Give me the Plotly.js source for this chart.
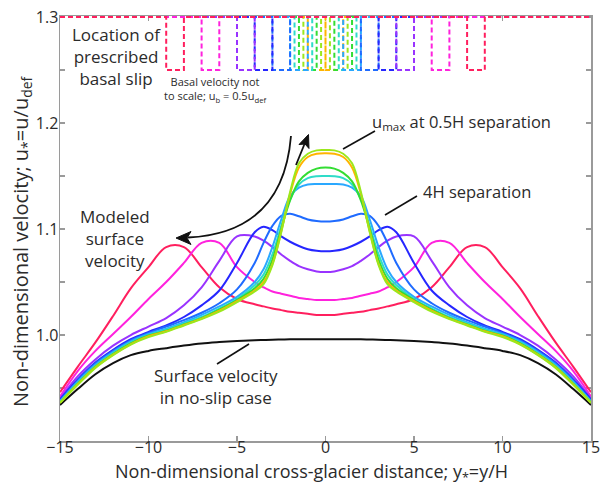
<!DOCTYPE html>
<html>
<head>
<meta charset="utf-8">
<script src="https://cdn.plot.ly/plotly-3.0.1.min.js"></script>
<style>
  html, body { margin: 0; padding: 0; background: #fff; }
  #chart { width: 601px; height: 486px; }
</style>
</head>
<body>
<div id="chart"></div>
<script>
// Cross-glacier positions (y* = y/H) shared by every surface-velocity profile
const Y_POS = [-15, -14, -13, -12, -11, -10, -9, -8, -7, -6, -5, -4, -3.5, -3, -2.5, -2, -1.5, -1, -0.5,
               0, 0.5, 1, 1.5, 2, 2.5, 3, 3.5, 4, 5, 6, 7, 8, 9, 10, 11, 12, 13, 14, 15];

// Surface velocity u* for each slip-patch layout
const U_NO_SLIP = [0.934, 0.949, 0.963, 0.9735, 0.981, 0.985, 0.9876, 0.990, 0.992, 0.9933, 0.9943, 0.995, 0.9953, 0.9956, 0.9958, 0.996, 0.996, 0.996, 0.996,
                   0.996, 0.996, 0.996, 0.996, 0.996, 0.9958, 0.9956, 0.9953, 0.995, 0.9943, 0.9933, 0.992, 0.990, 0.9876, 0.985, 0.981, 0.9735, 0.963, 0.949, 0.934];
const U_SEP_16H = [0.946, 0.970, 0.993, 1.018, 1.044, 1.064, 1.083, 1.083, 1.064, 1.045, 1.034, 1.029, 1.027, 1.025, 1.0235, 1.022, 1.021, 1.020, 1.019,
                   1.019, 1.019, 1.020, 1.021, 1.022, 1.0235, 1.025, 1.027, 1.029, 1.034, 1.045, 1.064, 1.083, 1.083, 1.064, 1.044, 1.018, 0.993, 0.970, 0.946];
const U_SEP_12H = [0.942, 0.966, 0.985, 1.001, 1.017, 1.034, 1.050, 1.068, 1.087, 1.087, 1.064, 1.050, 1.045, 1.041, 1.039, 1.037, 1.035, 1.034, 1.033,
                   1.033, 1.033, 1.034, 1.035, 1.037, 1.039, 1.041, 1.045, 1.050, 1.064, 1.087, 1.087, 1.068, 1.050, 1.034, 1.017, 1.001, 0.985, 0.966, 0.942];
const U_SEP_8H = [0.940, 0.961, 0.977, 0.990, 1.000, 1.008, 1.016, 1.028, 1.045, 1.070, 1.093, 1.093, 1.089, 1.083, 1.076, 1.070, 1.065, 1.062, 1.060,
                  1.0595, 1.060, 1.062, 1.065, 1.070, 1.076, 1.083, 1.089, 1.093, 1.093, 1.070, 1.045, 1.028, 1.016, 1.008, 1.000, 0.990, 0.977, 0.961, 0.940];
const U_SEP_6H = [0.939, 0.958, 0.974, 0.986, 0.996, 1.003, 1.009, 1.017, 1.028, 1.042, 1.068, 1.097, 1.1022, 1.099, 1.093, 1.088, 1.084, 1.081, 1.0795,
                  1.079, 1.0795, 1.081, 1.084, 1.088, 1.093, 1.099, 1.1022, 1.097, 1.068, 1.042, 1.028, 1.017, 1.009, 1.003, 0.996, 0.986, 0.974, 0.958, 0.939];
const U_SEP_4H = [0.938, 0.957, 0.973, 0.985, 0.995, 1.002, 1.008, 1.014, 1.021, 1.030, 1.043, 1.068, 1.087, 1.103, 1.1125, 1.1143, 1.112, 1.109, 1.1075,
                  1.107, 1.1075, 1.109, 1.112, 1.1143, 1.1125, 1.103, 1.087, 1.068, 1.043, 1.030, 1.021, 1.014, 1.008, 1.002, 0.995, 0.985, 0.973, 0.957, 0.938];
const U_SEP_2H = [0.937, 0.956, 0.972, 0.984, 0.994, 1.001, 1.006, 1.012, 1.019, 1.027, 1.036, 1.050, 1.062, 1.083, 1.109, 1.131, 1.139, 1.142, 1.1425,
                  1.1425, 1.1425, 1.142, 1.139, 1.131, 1.109, 1.083, 1.062, 1.050, 1.036, 1.027, 1.019, 1.012, 1.006, 1.001, 0.994, 0.984, 0.972, 0.956, 0.937];
const U_SEP_1_5H = [0.937, 0.955, 0.971, 0.983, 0.993, 1.000, 1.005, 1.011, 1.017, 1.025, 1.034, 1.047, 1.057, 1.076, 1.103, 1.128, 1.142, 1.148, 1.1498,
                    1.150, 1.1498, 1.148, 1.142, 1.128, 1.103, 1.076, 1.057, 1.047, 1.034, 1.025, 1.017, 1.011, 1.005, 1.000, 0.993, 0.983, 0.971, 0.955, 0.937];
const U_SEP_1H = [0.936, 0.954, 0.970, 0.982, 0.992, 0.9995, 1.004, 1.010, 1.016, 1.024, 1.033, 1.044, 1.053, 1.071, 1.100, 1.127, 1.145, 1.153, 1.157,
                  1.158, 1.157, 1.153, 1.145, 1.127, 1.100, 1.071, 1.053, 1.044, 1.033, 1.024, 1.016, 1.010, 1.004, 0.9995, 0.992, 0.982, 0.970, 0.954, 0.936];
const U_SEP_0H = [0.936, 0.9535, 0.9695, 0.9815, 0.9915, 0.999, 1.0035, 1.0095, 1.0155, 1.023, 1.032, 1.042, 1.050, 1.067, 1.098, 1.133, 1.158, 1.168, 1.171,
                  1.1715, 1.171, 1.168, 1.158, 1.133, 1.098, 1.067, 1.050, 1.042, 1.032, 1.023, 1.0155, 1.0095, 1.0035, 0.999, 0.9915, 0.9815, 0.9695, 0.9535, 0.936];
const U_SEP_0_5H = [0.936, 0.953, 0.969, 0.981, 0.991, 0.998, 1.003, 1.009, 1.015, 1.022, 1.031, 1.041, 1.048, 1.066, 1.097, 1.135, 1.162, 1.171, 1.1742,
                    1.1745, 1.1742, 1.171, 1.162, 1.135, 1.097, 1.066, 1.048, 1.041, 1.031, 1.022, 1.015, 1.009, 1.003, 0.998, 0.991, 0.981, 0.969, 0.953, 0.936];

// Slip patch extents (inner and outer |y*| edge of each symmetric pair), same order as profiles below
const PATCH_INNER = [8, 6, 4, 3, 2, 1, 0.75, 0.5, 0, 0.25];
const PATCH_OUTER = [9, 7, 5, 4, 3, 2, 1.75, 1.5, 1, 1.25];

// Schematic basal-slip levels drawn along the top of the axes (not to scale)
const BASE_LEVEL = 1.3;
const SLIP_LEVEL = 1.25;

const X_TICKS = [-15, -10, -5, 0, 5, 10, 15];
const Y_TICKS = [1.0, 1.1, 1.2, 1.3];
const Y_TICK_TEXT = ['1.0', '1.1', '1.2', '1.3'];

const PROFILES = [U_SEP_16H, U_SEP_12H, U_SEP_8H, U_SEP_6H, U_SEP_4H, U_SEP_2H, U_SEP_1_5H, U_SEP_1H, U_SEP_0H, U_SEP_0_5H];
const COLORS = ['#ff1f5e', '#ff22dd', '#9933ff', '#2626ff', '#1f6bff', '#2aa8ff', '#2fdcc8', '#33dd33', '#ffb400', '#9be81c'];

const traces = [];

// no-slip reference profile
traces.push({
  x: Y_POS, y: U_NO_SLIP, type: 'scatter', mode: 'lines',
  line: { color: '#111111', width: 2, shape: 'spline', smoothing: 1 },
  hoverinfo: 'skip'
});

// basal slip location markers (dashed), drawn widest-separation last so it sits on top
for (let i = PROFILES.length - 1; i >= 0; i--) {
  const a = PATCH_INNER[i], b = PATCH_OUTER[i];
  traces.push({
    x: [-15, -b, -b, -a, -a, a, a, b, b, 15],
    y: [BASE_LEVEL, BASE_LEVEL, SLIP_LEVEL, SLIP_LEVEL, BASE_LEVEL, BASE_LEVEL, SLIP_LEVEL, SLIP_LEVEL, BASE_LEVEL, BASE_LEVEL],
    type: 'scatter', mode: 'lines',
    line: { color: COLORS[i], width: 2, dash: '5px,3px' },
    hoverinfo: 'skip'
  });
}

// modelled surface velocity profiles
PROFILES.forEach((u, i) => {
  traces.push({
    x: Y_POS, y: u, type: 'scatter', mode: 'lines',
    line: { color: COLORS[i], width: 2, shape: 'spline', smoothing: 1 },
    hoverinfo: 'skip'
  });
});

// plot-area geometry in pixels, used to place callouts
const M = { l: 60, r: 10, t: 16, b: 45 };
const W = 601, H = 486;
const PW = W - M.l - M.r, PH = H - M.t - M.b;
const px = v => (v - M.l) / PW;
const py = v => (H - M.b - v) / PH;
const pt = (x, y) => px(x).toFixed(4) + ',' + py(y).toFixed(4);

const FONT = 'Open Sans, sans-serif';
const TXT = '#2b2b2b';

const shapes = [
  // leader lines
  { type: 'line', xref: 'paper', yref: 'paper', x0: px(343), y0: py(149), x1: px(375), y1: py(131), line: { color: '#111', width: 1.6 } },
  { type: 'line', xref: 'paper', yref: 'paper', x0: px(385), y0: py(215), x1: px(417), y1: py(196), line: { color: '#111', width: 1.6 } },
  { type: 'line', xref: 'paper', yref: 'paper', x0: px(217), y0: py(364), x1: px(249), y1: py(344), line: { color: '#111', width: 1.6 } },
  // curved arrow towards the modelled profiles
  { type: 'path', xref: 'paper', yref: 'paper',
    path: 'M' + pt(291, 136) + ' Q' + pt(283, 233) + ' ' + pt(188, 237.5),
    line: { color: '#111', width: 1.8 } },
  { type: 'path', xref: 'paper', yref: 'paper',
    path: 'M' + pt(176, 238) + ' L' + pt(191, 231.5) + ' L' + pt(187, 238) + ' L' + pt(191, 244.5) + ' Z',
    fillcolor: '#111', line: { color: '#111', width: 1 } },
  // short arrow pointing up to the peak
  { type: 'line', xref: 'paper', yref: 'paper', x0: px(296), y0: py(165), x1: px(304.5), y1: py(144), line: { color: '#111', width: 1.8 } },
  { type: 'path', xref: 'paper', yref: 'paper',
    path: 'M' + pt(308.5, 134.5) + ' L' + pt(309, 148.5) + ' L' + pt(305, 144) + ' L' + pt(299, 144.5) + ' Z',
    fillcolor: '#111', line: { color: '#111', width: 1 } }
];

const annotations = [
  { text: 'Location of<br>prescribed<br>basal slip', x: px(116), y: py(57), xanchor: 'center', yanchor: 'middle',
    font: { family: FONT, size: 17, color: TXT } },
  { text: 'Basal velocity not<br>to scale; u<sub>b</sub> = 0.5u<sub>def</sub>', x: px(215), y: py(89), xanchor: 'center', yanchor: 'middle',
    font: { family: FONT, size: 11, color: TXT } },
  { text: 'u<sub>max</sub> at 0.5H separation', x: px(370), y: py(122), xanchor: 'left', yanchor: 'middle',
    font: { family: FONT, size: 16.5, color: TXT } },
  { text: '4H separation', x: px(421), y: py(191), xanchor: 'left', yanchor: 'middle',
    font: { family: FONT, size: 16.5, color: TXT } },
  { text: 'Modeled<br>surface<br>velocity', x: px(115), y: py(239), xanchor: 'center', yanchor: 'middle',
    font: { family: FONT, size: 17, color: TXT } },
  { text: 'Surface velocity<br>in no-slip case', x: px(216), y: py(386), xanchor: 'center', yanchor: 'middle',
    font: { family: FONT, size: 17, color: TXT } },
  // axis titles
  { text: 'Non-dimensional cross-glacier distance; y<sub>*</sub>=y/H', x: px(311), y: py(472), xanchor: 'center', yanchor: 'middle',
    font: { family: FONT, size: 18, color: TXT } },
  { text: 'Non-dimensional velocity; u<sub>*</sub>=u/u<sub>def</sub>', x: px(21), y: py(241), xanchor: 'center', yanchor: 'middle',
    textangle: -90, font: { family: FONT, size: 20, color: TXT } }
].map(a => Object.assign({ xref: 'paper', yref: 'paper', showarrow: false }, a));

const axisCommon = {
  showgrid: false, zeroline: false,
  showline: true, linecolor: '#9a9a9a', linewidth: 1.5, mirror: 'ticks',
  ticks: 'inside', ticklen: 5, tickwidth: 1.2, tickcolor: '#9a9a9a',
  tickfont: { family: FONT, size: 16, color: TXT },
  layer: 'below traces'
};

const layout = {
  width: W, height: H,
  margin: { l: M.l, r: M.r, t: M.t, b: M.b, pad: 0 },
  paper_bgcolor: '#ffffff', plot_bgcolor: '#ffffff',
  showlegend: false,
  xaxis: Object.assign({}, axisCommon, { range: [-15, 15], tickmode: 'array', tickvals: X_TICKS, ticklabelstandoff: -9 }),
  yaxis: Object.assign({}, axisCommon, {
    range: [0.9, 1.301], tickmode: 'array', tickvals: Y_TICKS, ticktext: Y_TICK_TEXT, ticklabelstandoff: -3,
    minor: { tick0: 0.9, dtick: 0.05, ticks: 'inside', ticklen: 5, tickwidth: 1.2, tickcolor: '#9a9a9a' }
  }),
  shapes: shapes,
  annotations: annotations
};

Plotly.newPlot('chart', traces, layout, { displayModeBar: false, staticPlot: true });
</script>
</body>
</html>
